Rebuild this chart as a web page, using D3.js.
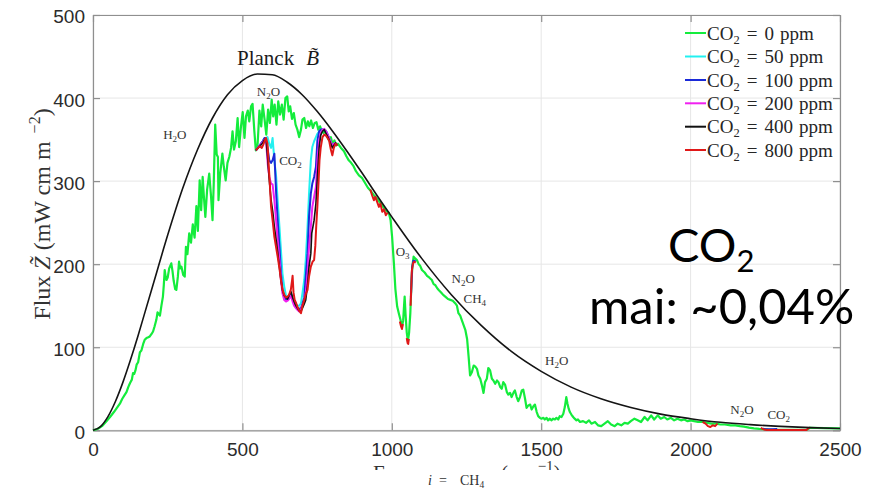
<!DOCTYPE html>
<html>
<head>
<meta charset="utf-8">
<script src="https://cdn.jsdelivr.net/npm/d3@7"></script>
<style>
  body { margin: 0; background: #fff; }
  svg { display: block; }
</style>
</head>
<body>
<svg id="chart" width="884" height="490"></svg>
<script>
// ---- axis ticks -------------------------------------------------------
const xTicks = [0, 500, 1000, 1500, 2000, 2500];
const yTicks = [0, 100, 200, 300, 400, 500];

// ---- Planck curve (wavenumber cm^-1, flux mW cm m^-2) -----------------
const nuPlanck = [0,25,50,75,100,125,150,175,200,250,300,350,400,450,500,550,600,650,700,750,
                  800,850,900,950,1000,1100,1200,1300,1400,1500,1600,1700,1800,1900,2000,2100,2200,2300,2400,2500];
const fluxPlanck = [0,4.4,16.5,34.7,57.7,84.3,113,143.5,174,235,291,338,376,404,421,429,428,419,404,384,
                    361,336,310,283,257,207,163,126,95,71,52,38,27.5,19.5,14,9.6,6.8,4.7,3.2,2.2];

// ---- CO2 = 0 ppm ------------------------------------------------------
const nu0 = [0,15,30,45,57,70,80,90,98,105,112,118,124,130,134,138,142,146,151,157,162,168,173,179,185,190,196,201,206,212,
  216,220,224,229,234,237,240,243,246,250,255,262,266,270,275,279,284,288,292,296,302,307,311,316,322,328,334,340,346,351,
  357,362,367,371,376,382,389,395,400,404,409,414,418,420,426,433,438,444,450,456,462,467,472,478,484,489,495,501,507,512,
  518,523,529,534,540,545,551,557,563,568,574,580,586,592,598,603,608,614,620,626,632,638,644,650,655,660,666,672,678,684,
  690,696,701,707,713,719,724,730,736,742,748,754,760,766,772,778,784,790,796,802,808,814,820,830,840,848,856,864,872,880,
  890,900,910,920,930,940,950,957,965,975,985,990,996,1001,1007,1012,1018,1024,1029,1034,1038,1041,1043,1046,1050,1054,1058,1062,1066,1069,
  1073,1078,1084,1090,1095,1101,1110,1118,1125,1134,1140,1145,1152,1157,1165,1172,1179,1188,1196,1204,1212,1218,1223,1229,1234,1240,1246,1252,1257,1262,
  1268,1274,1279,1285,1290,1296,1301,1307,1312,1318,1323,1329,1335,1340,1346,1352,1357,1363,1368,1373,1379,1385,1390,1396,1401,1407,1412,1418,1423,1429,
  1435,1440,1446,1451,1457,1463,1468,1474,1479,1485,1490,1496,1501,1507,1512,1518,1523,1529,1534,1540,1546,1551,1557,1562,1568,1574,1579,1584,1588,1592,
  1596,1601,1607,1612,1618,1623,1630,1640,1650,1660,1668,1680,1690,1701,1712,1723,1734,1746,1756,1768,1779,1790,1800,1812,1823,1834,1846,1856,1868,1878,
  1890,1900,1912,1922,1934,1945,1956,1968,1979,1990,2001,2012,2025,2040,2056,2070,2085,2100,2115,2134,2150,2165,2179,2195,2212,2230,2245,2260,2300,2350,
  2388,2400,2450,2500];
const flux0 = [0,1.5,5,11,16,22,27,32,38,42,46,52,57,61,69,68,72,79,82,94,96,104,109,111,112,113,116,119,125,133,
  142,140,138,150,161,175,193,185,181,184,195,201,192,180,170,169,185,203,195,197,187,185,221,212,237,226,248,232,270,240,
  301,265,305,282,257,290,309,282,253,296,368,332,329,277,310,333,317,301,322,329,340,360,338,348,376,341,365,383,352,378,
  385,372,390,393,360,337,345,385,366,392,375,356,386,370,398,378,392,368,396,380,392,374,400,402,384,390,375,382,368,362,
  353,362,374,376,364,372,366,373,364,370,371,362,366,360,358,361,354,349,353,344,349,343,345,340,336,330,325,322,318,312,
  307,304,298,292,288,283,279,276,272,267,263,262,253,233,201,170,149,140,133,125,132,150,161,140,118,107,118,141,180,198,
  209,207,205,200,198,193,190,186,184,181,176,175,171,169,166,163,161,158,157,156,153,150,141,138,133,127,121,110,89,66,
  70,78,77,74,66,62,55,45,58,62,75,72,62,60,56,60,58,52,50,58,55,46,43,45,40,45,48,40,35,40,
  48,49,38,27,30,31,25,29,31,22,17,15,14,15,13,15,12,14,12,14,13,15,13,17,16,20,28,40,32,26,
  22,19,16,14,12,13,10,11,9,12,8,10,6,5,8,11,7,5,8,6,9,8,11,14,12,10,16,12,18,13,
  18,14,16,13,15,12,14,12,13,11,12,11,10,10,9,8,8,7,7,6,6,5,4.4,3.2,2.4,1.8,1.5,0.8,0.5,0.5,
  0.5,3.1,2.6,2.2];

// ---- CO2 = 50 ppm -----------------------------------------------------
const nu50 = [545,568,574,579,584,590,596,601,607,613,618,624,629,634,640,646,651,656,662,668,673,679,684,690,696,701,707,712,718,723,
  729,734,740,746,751,757,762,770,780,790,800,810,818];
const flux50 = [337,348,351,352,353,345,340,352,325,305,277,245,217,189,173,162,160,162,167,160,156,152,150,150,153,165,181,205,245,285,
  325,341,348,353,357,360,362,362,360,352,343,346,343];

// ---- CO2 = 100 ppm ----------------------------------------------------
const nu100 = [545,568,574,579,584,590,596,601,607,613,618,624,629,634,640,646,651,656,662,668,673,679,684,690,696,701,707,712,718,723,
  729,734,740,746,751,757,762,770,780,790,800,810,
  null,1064,1068,1072,1076,1080,
  null,2242,2250,2275,2290];
const flux100 = [337,348,352,351,340,325,322,325,333,285,253,221,189,169,160,157,158,160,165,158,153,150,148,146,147,152,160,185,213,257,
  285,297,305,317,349,360,362,362,360,352,343,346,
  null,160,196,204,204,203,
  null,1.8,1.2,1.2,1.5];

// ---- CO2 = 200 ppm ----------------------------------------------------
const nu200 = [545,568,574,579,585,590,596,601,607,613,618,624,629,634,640,646,651,656,662,668,673,679,684,690,696,701,707,712,718,723,
  729,734,740,746,751,757,762,768,774,780,790,800,810,818];
const flux200 = [337,347,350,349,320,305,297,296,277,252,229,205,181,165,157,155,156,158,162,155,150,147,145,143,145,150,155,165,189,221,
  245,269,281,293,325,349,358,362,363,360,352,343,346,343];

// ---- CO2 = 400 ppm ----------------------------------------------------
const nu400 = [545,558,568,574,579,584,590,596,602,607,613,618,621,626,629,634,640,646,651,656,662,668,673,679,684,690,696,701,707,712,
  718,723,729,732,736,740,746,751,757,762,768,774,779,785,790,796,801,806,812,818];
const flux400 = [337,342,346,350,351,330,301,277,262,245,229,215,205,190,181,169,162,160,158,162,167,160,155,150,147,144,143,147,152,157,
  175,197,213,237,245,253,273,305,341,355,360,362,358,354,350,345,340,343,346,343];

// ---- CO2 = 800 ppm ----------------------------------------------------
const nu800 = [545,552,558,565,570,574,579,584,588,592,596,602,607,612,618,624,629,634,640,646,651,656,662,666,668,671,675,680,684,690,
  696,701,707,713,718,723,729,735,740,744,747,751,755,758,762,768,774,779,785,790,796,801,806,812,818,
  null,928,934,940,945,950,957,962,968,974,980,986,
  null,1027,1031,1034,1037,
  null,1050,1053,1055,1057,
  null,1063,1067,1071,1075,1080,
  null,2040,2050,2058,2066,2074,2082,2090,
  null,2235,2245,2255,2300,2350,2388,2394,2400];
const flux800 = [337,340,342,340,344,348,352,345,320,295,269,250,233,222,209,195,181,170,163,160,161,163,169,180,186,166,157,153,149,144,
  141,150,157,165,169,185,197,203,205,222,245,270,300,325,340,353,356,355,352,349,338,331,340,345,343,
  null,290,283,277,281,276,269,273,263,266,259,262,
  null,131,125,122,128,
  null,111,105,104,110,
  null,150,192,201,203,202,
  null,10,8,5,4,6,5,8,
  null,2.8,1.0,0.4,0.4,0.4,0.4,2.6,3.2];

// ---- legend -----------------------------------------------------------
const legendPpm = ["0", "50", "100", "200", "400", "800"];
const seriesColors = ["#14ec3c", "#22f0f0", "#1a2ad8", "#f020f0", "#111111", "#e01818"];

// ---- band labels (text, wavenumber, flux at baseline) -----------------
const bandLabels = [
  {t: "H_2O", nu: 235, v: 351},
  {t: "N_2O", nu: 548, v: 402},
  {t: "CO_2", nu: 623, v: 319},
  {t: "O_3",  nu: 1013, v: 210},
  {t: "N_2O", nu: 1200, v: 177},
  {t: "CH_4", nu: 1240, v: 153},
  {t: "H_2O", nu: 1513, v: 79},
  {t: "N_2O", nu: 2133, v: 20},
  {t: "CO_2", nu: 2257, v: 14}
];

// ======================================================================
const svg = d3.select("#chart");
const box = {left: 93, top: 15, right: 840, bottom: 430.3};
const x = d3.scaleLinear().domain([0, 2500]).range([box.left, box.right]);
const y = d3.scaleLinear().domain([0, 500]).range([box.bottom, box.top]);

const serif = "'Liberation Serif', 'Times New Roman', serif";
const sans = "'Liberation Sans', Arial, Helvetica, sans-serif";

// grid
const grid = svg.append("g").attr("stroke", "#e6e6e6").attr("stroke-width", 1);
grid.selectAll("line.gx").data(xTicks).join("line").attr("class", "gx")
  .attr("x1", d => x(d)).attr("x2", d => x(d)).attr("y1", box.top).attr("y2", box.bottom);
grid.selectAll("line.gy").data(yTicks).join("line").attr("class", "gy")
  .attr("x1", box.left).attr("x2", box.right).attr("y1", d => y(d)).attr("y2", d => y(d));

// axes (inward ticks on all four sides)
function styleAxis(g) {
  g.select(".domain").attr("stroke", "#8f8f8f").attr("stroke-width", 1.2);
  g.selectAll(".tick line").attr("stroke", "#8f8f8f").attr("stroke-width", 1.2);
  g.selectAll(".tick text").attr("fill", "#2b2b2b").style("font-family", sans).style("font-size", "19px");
}
svg.append("g").attr("transform", `translate(0,${box.bottom})`)
  .call(d3.axisBottom(x).tickValues(xTicks).tickSizeInner(-7).tickSizeOuter(0).tickPadding(12).tickFormat(d3.format("d")))
  .call(styleAxis);
svg.append("g").attr("transform", `translate(${box.left},0)`)
  .call(d3.axisLeft(y).tickValues(yTicks).tickSizeInner(-7).tickSizeOuter(0).tickPadding(8).tickFormat(d3.format("d")))
  .call(styleAxis)
  .selectAll(".tick text").attr("dy", "0.42em");
svg.append("g").attr("transform", `translate(0,${box.top})`)
  .call(d3.axisTop(x).tickValues(xTicks).tickSizeInner(-7).tickSizeOuter(0).tickFormat(""))
  .call(styleAxis);
svg.append("g").attr("transform", `translate(${box.right},0)`)
  .call(d3.axisRight(y).tickValues(yTicks).tickSizeInner(-7).tickSizeOuter(0).tickFormat(""))
  .call(styleAxis);

// spectra
const line = d3.line()
  .defined(d => d[1] != null)
  .x(d => x(d[0]))
  .y(d => y(d[1]));
const zip = (a, b) => a.map((v, i) => [v, b[i]]);

const plotArea = svg.append("g");
const series = [
  {nu: nu0,   flux: flux0,   color: seriesColors[0], w: 2.2},
  {nu: nu50,  flux: flux50,  color: seriesColors[1], w: 2.0},
  {nu: nu100, flux: flux100, color: seriesColors[2], w: 2.0},
  {nu: nu200, flux: flux200, color: seriesColors[3], w: 2.0},
  {nu: nu400, flux: flux400, color: seriesColors[4], w: 1.6},
  {nu: nu800, flux: flux800, color: seriesColors[5], w: 2.0}
];
series.forEach(s => {
  plotArea.append("path")
    .datum(zip(s.nu, s.flux))
    .attr("fill", "none")
    .attr("stroke", s.color)
    .attr("stroke-width", s.w)
    .attr("stroke-linejoin", "round")
    .attr("d", line);
});

// Planck envelope
plotArea.append("path")
  .datum(zip(nuPlanck, fluxPlanck))
  .attr("fill", "none")
  .attr("stroke", "#141414")
  .attr("stroke-width", 1.6)
  .attr("d", d3.line().x(d => x(d[0])).y(d => y(d[1])).curve(d3.curveMonotoneX));

// chemical formula helper: "_" marks a subscript digit
function formula(sel, str, sub) {
  const parts = str.split("_");
  sel.append("tspan").text(parts[0]);
  for (let i = 1; i < parts.length; i++) {
    sel.append("tspan").attr("dy", sub.dy).attr("font-size", sub.size).text(parts[i][0]);
    if (parts[i].length > 1) sel.append("tspan").attr("dy", -sub.dy).text(parts[i].slice(1));
  }
}

// band labels
svg.append("g").selectAll("text").data(bandLabels).join("text")
  .attr("x", d => x(d.nu)).attr("y", d => y(d.v))
  .attr("fill", "#333").style("font-family", serif).style("font-size", "13px")
  .each(function(d) { formula(d3.select(this), d.t, {dy: 3, size: "9px"}); });

// Planck label
const planck = svg.append("text").attr("x", 237).attr("y", 65)
  .attr("fill", "#1a1a1a").style("font-family", serif).style("font-size", "21px");
planck.append("tspan").text("Planck");
planck.append("tspan").attr("dx", 12).attr("font-style", "italic").text("B\u0303");

// y-axis title
const yt = svg.append("text")
  .attr("transform", "translate(50,214) rotate(-90)")
  .attr("text-anchor", "middle")
  .attr("fill", "#333").style("font-family", serif).style("font-size", "24px");
yt.append("tspan").text("Flux ");
yt.append("tspan").attr("font-style", "italic").text("Z\u0303");
yt.append("tspan").text(" (mW cm m");
yt.append("tspan").attr("dx", 8).attr("dy", -10).attr("font-size", "16px").text("\u22122");
yt.append("tspan").attr("dy", 10).text(")");

// x-axis title, cut off along the lower edge of the figure panel
svg.append("clipPath").attr("id", "xtitle-clip")
  .append("rect").attr("x", 0).attr("y", 0).attr("width", 884).attr("height", 470);
const xt = svg.append("text").attr("clip-path", "url(#xtitle-clip)")
  .attr("x", 373).attr("y", 480)
  .attr("fill", "#333").style("font-family", serif).style("font-size", "21px");
xt.append("tspan").text("Frequency ");
xt.append("tspan").attr("font-style", "italic").text("\u03bd");
xt.append("tspan").attr("x", 501).text("(cm");
xt.append("tspan").attr("dx", 4).attr("dy", -9).attr("font-size", "15px").text("\u22121");
xt.append("tspan").attr("dy", 9).text(")");

// caption line below
const cap = svg.append("text").attr("y", 485)
  .attr("fill", "#333").style("font-family", serif).style("font-size", "14px");
cap.append("tspan").attr("x", 428).attr("font-style", "italic").text("i");
cap.append("tspan").attr("x", 439).text("=");
cap.append("tspan").attr("x", 460).text("CH");
cap.append("tspan").attr("dy", 3).attr("font-size", "9.5px").text("4");

// legend
const legend = svg.append("g");
const rowY = [33, 56.5, 80, 103.3, 126.7, 150];
legendPpm.forEach((p, i) => {
  legend.append("line")
    .attr("x1", 685).attr("x2", 706).attr("y1", rowY[i]).attr("y2", rowY[i])
    .attr("stroke", seriesColors[i]).attr("stroke-width", 2);
  const t = legend.append("text").attr("x", 707).attr("y", rowY[i] + 6.5)
    .attr("fill", "#262626").style("font-family", serif).style("font-size", "19px");
  t.append("tspan").text("CO");
  t.append("tspan").attr("dy", 4).attr("font-size", "12.5px").text("2");
  t.append("tspan").attr("dx", 7).attr("dy", -4).text("=");
  t.append("tspan").attr("dx", 7).text(p);
  t.append("tspan").attr("dx", 6).text("ppm");
});

// headline annotation
const big = svg.append("text").attr("x", 668).attr("y", 262)
  .attr("fill", "#000").style("font-family", "Lato, 'Open Sans', sans-serif").style("font-size", "47px");
big.append("tspan").text("CO");
big.append("tspan").attr("dy", 10).attr("font-size", "31px").text("2");
svg.append("text").attr("x", 589).attr("y", 324)
  .attr("fill", "#000").style("font-family", "Lato, 'Open Sans', sans-serif").style("font-size", "49px")
  .text("mai: ~0,04%");
</script>
</body>
</html>
